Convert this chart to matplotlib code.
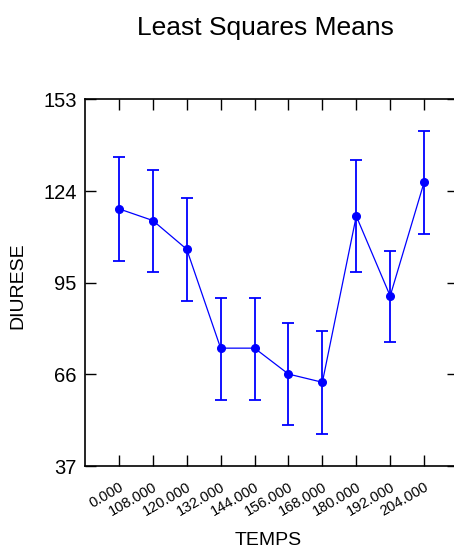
import matplotlib
matplotlib.use("Agg")
import matplotlib.pyplot as plt
import matplotlib.transforms as mtransforms
import numpy as np

plt.rcParams['font.family'] = ['Liberation Sans', 'DejaVu Sans']

# Least squares means of DIURESE by TEMPS, with confidence limits
temps = ["0.000", "108.000", "120.000", "132.000", "144.000",
         "156.000", "168.000", "180.000", "192.000", "204.000"]
means = [118.4, 114.7, 105.6, 74.3, 74.3, 66.1, 63.5, 116.1, 90.8, 126.8]
lower = [102.0, 98.4, 89.1, 57.9, 57.9, 50.0, 47.1, 98.4, 76.2, 110.5]
upper = [134.7, 130.8, 121.7, 90.2, 90.2, 82.4, 79.8, 133.8, 105.1, 143.0]
yticks = [37, 66, 95, 124, 153]

W, H = 454, 549
fig = plt.figure(figsize=(W / 100, H / 100), dpi=100)
ax = fig.add_axes([85 / W, 1 - 466 / H, (458 - 85) / W, (466 - 99.5) / H])

x = np.arange(1, len(temps) + 1)
m = np.array(means)
yerr = np.vstack([m - np.array(lower), np.array(upper) - m])

blue = (0, 0, 1)
ax.plot(x, m, color=blue, lw=0.9, zorder=2)
ax.errorbar(x, m, yerr=yerr, fmt='o', color=blue, ms=5.5, elinewidth=1.3,
            capsize=4.5, capthick=1.3, zorder=3)

ax.set_xlim(0, len(temps) + 1)
ax.set_ylim(37, 153)
ax.set_yticks(yticks)
ax.set_yticklabels([str(v) for v in yticks], fontsize=14.5)
ax.set_xticks(x)
ax.set_xticklabels(temps, fontsize=10.5, rotation=30, ha='right', va='top',
                   rotation_mode='anchor')
offset = mtransforms.ScaledTranslation(5 / 100, 0, fig.dpi_scale_trans)
for lab in ax.get_xticklabels():
    lab.set_transform(lab.get_transform() + offset)

ax.tick_params(axis='both', direction='in', length=8, width=1.0,
               top=True, right=True, color='black')
ax.tick_params(axis='y', pad=6)
ax.tick_params(axis='x', pad=10)
for side in ['left', 'bottom', 'top', 'right']:
    ax.spines[side].set_linewidth(1.2)

fig.text(265 / W, 1 - 35 / H, "Least Squares Means", fontsize=19,
         ha='center', va='baseline')
fig.text(18 / W, 1 - 286 / H, "DIURESE", fontsize=14, rotation=90,
         ha='center', va='center')
fig.text(268 / W, 1 - 545 / H, "TEMPS", fontsize=14, ha='center',
         va='baseline')

fig.savefig("out.png", dpi=100)
